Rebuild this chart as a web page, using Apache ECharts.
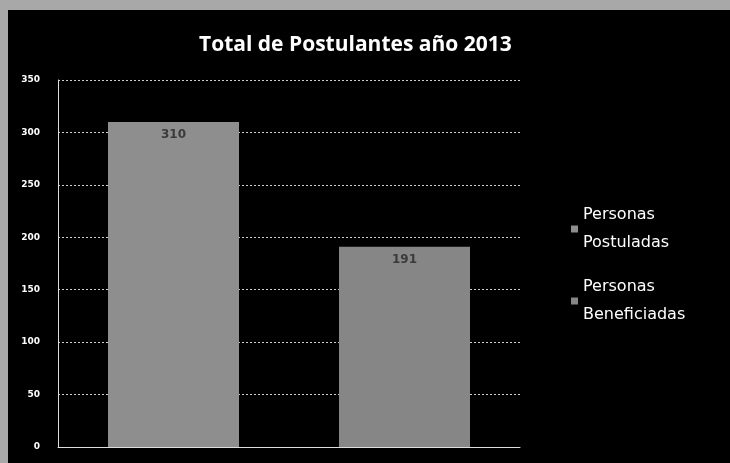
<!DOCTYPE html>
<html>
<head>
<meta charset="utf-8">
<script src="https://cdn.jsdelivr.net/npm/echarts@6/dist/echarts.min.js"></script>
<style>
html,body{margin:0;padding:0;width:730px;height:463px;overflow:hidden;background:#a8a8a8;}
#c{position:absolute;left:8px;top:10px;width:722px;height:453px;background:#000;}
</style>
</head>
<body>
<div id="c"></div>
<script>
var title = 'Total de Postulantes año 2013';
var categories = ['Personas Postuladas', 'Personas Beneficiadas'];
var seriesNames = ['Personas\nPostuladas', 'Personas\nBeneficiadas'];
var values = [310, 191];
var yTicks = {min: 0, max: 350, interval: 50};

var chart = echarts.init(document.getElementById('c'));
var series = seriesNames.map(function (name, i) {
  var d = categories.map(function (c, j) { return j === i ? values[i] : '-'; });
  return {
    name: name,
    type: 'bar',
    data: d,
    barWidth: 131,
    barGap: '-100%',
    itemStyle: {color: i === 0 ? '#8e8e8e' : '#868686'},
    label: {show: true, position: 'insideTop', color: '#3a3a3a', fontSize: 12, fontWeight: 'bold', fontFamily: 'DejaVu Sans', offset: [0, 2]}
  };
});
chart.setOption({
  backgroundColor: '#000',
  animation: false,
  title: {
    text: title, left: 186, top: 20,
    textStyle: {color: '#fff', fontSize: 21, fontWeight: 'bold', fontFamily: 'Open Sans'}
  },
  legend: {
    orient: 'vertical', left: 558, top: 186,
    itemWidth: 7, itemHeight: 7, itemGap: 16, icon: 'rect',
    textStyle: {color: '#fff', fontSize: 16, fontFamily: 'DejaVu Sans', lineHeight: 28},
    data: seriesNames
  },
  grid: {left: 50, right: 210, top: 70, bottom: 16},
  xAxis: {
    type: 'category', data: categories,
    axisLine: {lineStyle: {color: '#ddd', width: 1}},
    axisTick: {show: false}, axisLabel: {show: false}
  },
  yAxis: {
    type: 'value', min: yTicks.min, max: yTicks.max, interval: yTicks.interval,
    axisLine: {show: true, lineStyle: {color: '#ddd', width: 1}},
    axisTick: {show: false},
    axisLabel: {color: '#fff', fontSize: 9, fontWeight: 'bold', fontFamily: 'DejaVu Sans', margin: 18},
    splitLine: {lineStyle: {color: '#cfcfcf', type: [2, 2], width: 1}}
  },
  series: series
});
</script>
</body>
</html>
